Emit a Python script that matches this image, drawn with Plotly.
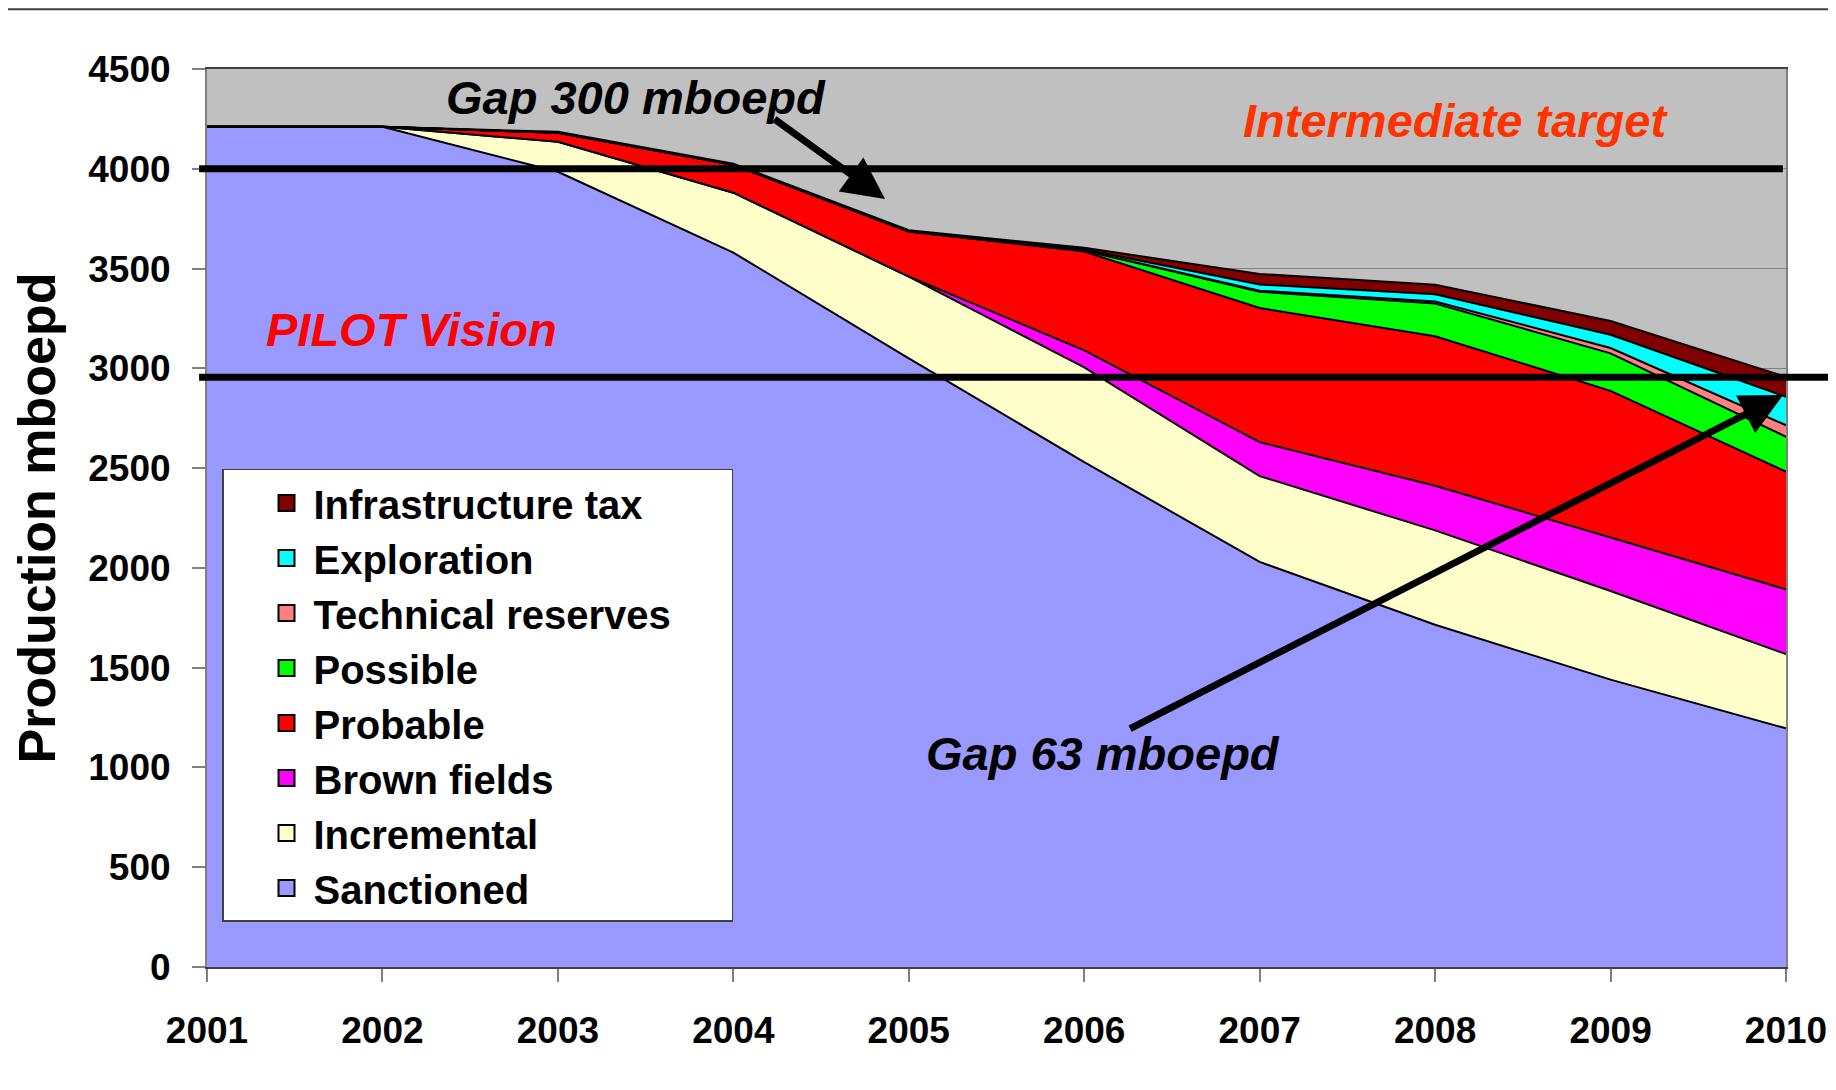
import plotly.graph_objects as go

years = [2001, 2002, 2003, 2004, 2005, 2006, 2007, 2008, 2009, 2010]

sanctioned = [4210, 4210, 3985, 3580, 3050, 2530, 2030, 1715, 1440, 1196]
incremental = [0, 0, 150, 300, 410, 475, 430, 473, 444, 372]
brown_fields = [0, 0, 0, 0, 0, 85, 170, 224, 268, 324]
probable = [0, 0, 45, 140, 225, 495, 672, 749, 735, 590]
possible = [0, 0, 0, 0, 0, 5, 82, 164, 188, 175]
technical_reserves = [0, 0, 0, 0, 0, 0, 5, 10, 27, 58]
exploration = [0, 0, 0, 0, 0, 5, 31, 36, 66, 142]
infrastructure_tax = [0, 0, 5, 5, 7, 9, 53, 48, 69, 100]

intermediate_target = 4000
pilot_vision = 2955

series = [
    ("Sanctioned", sanctioned, "#9999FF"),
    ("Incremental", incremental, "#FFFFCC"),
    ("Brown fields", brown_fields, "#FF00FF"),
    ("Probable", probable, "#FF0000"),
    ("Possible", possible, "#00FF00"),
    ("Technical reserves", technical_reserves, "#FF8080"),
    ("Exploration", exploration, "#00FFFF"),
    ("Infrastructure tax", infrastructure_tax, "#800000"),
]

FONT = "Liberation Sans, Arial, sans-serif"
Y_MAX = 4500
PAD = "\u00a0" * 5  # widens the legend box on the right like the original

fig = go.Figure()
for name, vals, color in series:
    fig.add_trace(go.Scatter(
        x=years, y=vals, name=name, mode="lines", stackgroup="one",
        line=dict(color="black", width=2), fillcolor=color, showlegend=False,
        hoverinfo="x+y+name",
    ))
# legend entries with square swatches
for name, vals, color in series:
    fig.add_trace(go.Scatter(
        x=[None], y=[None], name=name + PAD, mode="markers",
        marker=dict(symbol="square", size=16, color=color, line=dict(color="black", width=2)),
    ))

# target lines
fig.add_shape(type="line", xref="paper", yref="paper", x0=-0.005, x1=0.998,
              y0=intermediate_target / Y_MAX, y1=intermediate_target / Y_MAX,
              line=dict(color="black", width=7))
fig.add_shape(type="line", xref="paper", yref="paper", x0=-0.005, x1=1.03,
              y0=pilot_vision / Y_MAX, y1=pilot_vision / Y_MAX,
              line=dict(color="black", width=7))
# outer frame (top and right)
fig.add_shape(type="line", xref="paper", yref="paper", x0=-0.2, x1=1.0275, y0=1.0665, y1=1.0665,
              line=dict(color="#404040", width=2))
fig.add_shape(type="line", xref="paper", yref="paper", x0=1.0275, x1=1.0275, y0=-0.2, y1=1.0665,
              line=dict(color="#404040", width=2))

txt = dict(family=FONT, size=47, weight="bold", style="italic")
fig.add_annotation(x=2003.445, y=4357, text="Gap 300 mboepd", showarrow=False,
                   font=dict(txt, color="black"))
fig.add_annotation(x=2008.116, y=4241, text="Intermediate target", showarrow=False,
                   font=dict(txt, color="#FF3300"))
fig.add_annotation(x=2002.168, y=3197, text="PILOT Vision", showarrow=False,
                   font=dict(txt, color="#FF0000"))
fig.add_annotation(x=2006.107, y=1072, text="Gap 63 mboepd", showarrow=False,
                   font=dict(txt, color="black"))
# arrows
fig.add_annotation(x=2004.865, y=3848, ax=2004.226, ay=4254, axref="x", ayref="y",
                   text="", showarrow=True, arrowhead=2, arrowsize=1.2, arrowwidth=7,
                   arrowcolor="black", standoff=0)
fig.add_annotation(x=2009.983, y=2866, ax=2006.253, ay=1191, axref="x", ayref="y",
                   text="", showarrow=True, arrowhead=2, arrowsize=1.2, arrowwidth=7,
                   arrowcolor="black", standoff=0)

tick_font = dict(family=FONT, size=37, color="black", weight="bold")
fig.update_layout(
    width=1828, height=1074,
    margin=dict(l=199, r=50, t=61, b=115),
    paper_bgcolor="white",
    plot_bgcolor="#C0C0C0",
    font=dict(family=FONT, color="black"),
    xaxis=dict(
        range=[2001, 2010], tickvals=years, ticktext=[str(y) for y in years],
        showgrid=False, zeroline=False, ticks="outside", ticklen=13, tickwidth=1.5,
        tickcolor="#808080", showline=True, linecolor="#404040", linewidth=2, mirror=True,
        tickfont=tick_font, ticklabelstandoff=17, automargin=False,
    ),
    yaxis=dict(
        range=[0, Y_MAX], dtick=500, showgrid=True, gridcolor="#808080", gridwidth=1,
        zeroline=False, ticks="outside", ticklen=13, tickwidth=1.5, tickcolor="#808080",
        showline=True, linecolor="#808080", linewidth=2, mirror=True,
        tickfont=tick_font, ticklabelstandoff=14, automargin=False,
        title=dict(text="Production mboepd", standoff=20,
                   font=dict(family=FONT, size=52, color="black", weight="bold")),
    ),
    legend=dict(
        x=0.0095, y=0.5546, xanchor="left", yanchor="top",
        traceorder="reversed", bgcolor="white", bordercolor="#404040", borderwidth=1.5,
        font=dict(family=FONT, size=40, color="black", weight="bold"),
        itemwidth=44, indentation=36, tracegroupgap=0,
    ),
    showlegend=True,
)

fig.write_html("out.html")
